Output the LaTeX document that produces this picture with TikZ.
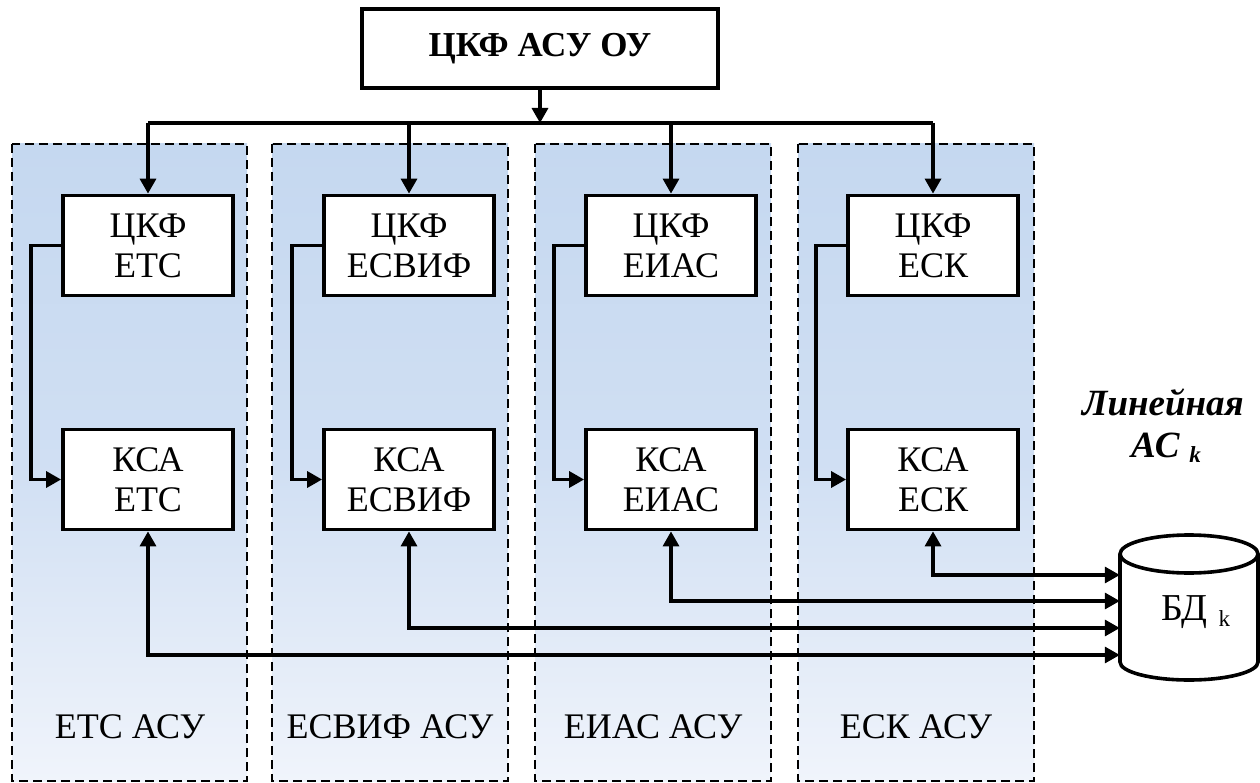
\documentclass[tikz,border=0pt]{standalone}
\usepackage{fontspec}
\setmainfont{Liberation Serif}
\usetikzlibrary{arrows.meta}
\definecolor{pTop}{RGB}{197,216,240}
\definecolor{pBot}{RGB}{240,244,251}
\tikzset{
  box/.style={draw, line width=3.8pt, fill=white, minimum width=170pt, minimum height=100pt,
    align=center, inner sep=0pt, font=\fontsize{36}{40}\selectfont},
  panel/.style={draw, dash pattern=on 9pt off 5pt, line width=2.6pt},
  conn/.style={line width=3.3pt},
  arr/.style={conn, -{Triangle[length=15pt,width=16pt]}},
  arrs/.style={conn, {Triangle[length=15pt,width=16pt]}-{Triangle[length=15pt,width=16pt]}},
  lbl/.style={font=\fontsize{36}{40}\selectfont, inner sep=0pt},
}
\begin{document}
\begin{tikzpicture}[x=1pt,y=-1pt]
\useasboundingbox (0,0) rectangle (1260,783);
% panels
\foreach \l/\r in {12/247, 272/508, 535/771, 798/1034}{
  \shade[top color=pTop, bottom color=pBot, middle color={rgb,255:red,208;green,223;blue,243}] (\l,144) rectangle (\r,781);
  \draw[panel] (\l,144) rectangle (\r,781);
}
% top box
\node[box, minimum width=356pt, minimum height=79pt, font=\fontsize{35}{40}\selectfont\bfseries] (top) at (540,48.5) {ЦКФ АСУ ОУ};
% boxes
\node[box] (c1) at (148,245.5) {ЦКФ\\ЕТС};
\node[box] (c2) at (409,245.5) {ЦКФ\\ЕСВИФ};
\node[box] (c3) at (671,245.5) {ЦКФ\\ЕИАС};
\node[box] (c4) at (933,245.5) {ЦКФ\\ЕСК};
\node[box] (k1) at (148,479.5) {КСА\\ЕТС};
\node[box] (k2) at (409,479.5) {КСА\\ЕСВИФ};
\node[box] (k3) at (671,479.5) {КСА\\ЕИАС};
\node[box] (k4) at (933,479.5) {КСА\\ЕСК};
% panel labels
\node[lbl] (l1) at (130,727) {ЕТС АСУ};
\node[lbl] (l2) at (390,727) {ЕСВИФ АСУ};
\node[lbl] (l3) at (653,727) {ЕИАС АСУ};
\node[lbl] (l4) at (916,727) {ЕСК АСУ};
% bus
\coordinate (bus) at (540,123);
\draw[arr] (top.south) -- (bus);
\draw[conn] (c1.north |- bus) -- (c4.north |- bus);
\foreach \i in {1,2,3,4}{
  \draw[arr] (c\i.north |- bus) -- (c\i.north);
  \draw[arr] (c\i.west) -- ++(-30,0) |- (k\i.west);
}
% database cylinder
\fill[white] (1120,554) -- (1120,662) arc[start angle=180,end angle=360,x radius=69pt,y radius=18pt] -- (1258,554) -- cycle;
\fill[white] (1189,554) ellipse [x radius=69pt, y radius=19pt];
\draw[line width=3.6pt] (1120,554) -- (1120,662) arc[start angle=180,end angle=360,x radius=69pt,y radius=18pt] -- (1258,554);
\draw[line width=3.6pt] (1189,554) ellipse [x radius=69pt, y radius=19pt];
\node[inner sep=0pt, minimum width=138pt, minimum height=145pt] (db) at (1189,607.5) {};
\node[lbl, anchor=base west, font=\fontsize{38}{40}\selectfont] (dbt) at (1161,620) {БД\hspace{11pt}{\fontsize{23}{23}\selectfont\raisebox{-6pt}{k}}};
% linear AC label
\node[lbl, anchor=base, font=\fontsize{37}{40}\selectfont\bfseries\itshape] (lin1) at (1163,415) {Линейная};
\node[lbl, anchor=base, font=\fontsize{37}{40}\selectfont\bfseries\itshape] (lin2) at (1166,457) {АС\hspace{10pt}{\fontsize{23}{23}\selectfont\raisebox{-5pt}{k}}};
% connections to database
\coordinate (y4) at (0,575);
\coordinate (y3) at (0,601);
\coordinate (y2) at (0,628);
\coordinate (y1) at (0,655);
\foreach \i in {1,2,3,4}{
  \draw[arrs] (k\i.south) |- (db.west |- y\i);
}
\end{tikzpicture}
\end{document}
